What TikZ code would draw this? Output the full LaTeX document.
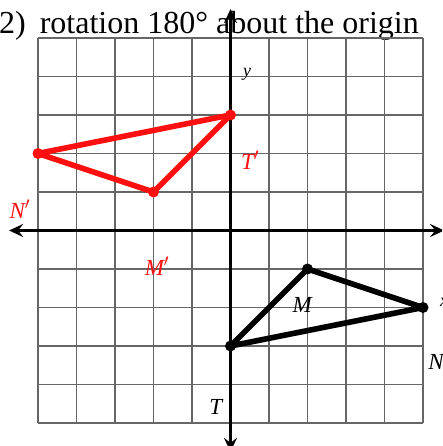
\documentclass[tikz,border=0pt]{standalone}
\usepackage{fontspec}
\setmainfont{Liberation Serif}
\usetikzlibrary{arrows.meta}
\definecolor{gridgray}{HTML}{666666}
\definecolor{imgred}{HTML}{FF1010}
\tikzset{
  gridline/.style={draw=gridgray, line width=1.6pt},
  axisline/.style={draw=black, line width=2.8pt, -{Stealth[length=14pt,width=13pt,inset=5pt]}},
  triline/.style={line width=5.6pt, line join=round},
  dotpt/.style={circle, inner sep=0pt, minimum size=11pt},
  lab/.style={font=\fontsize{23}{23}\selectfont\itshape, inner sep=0pt},
}
\begin{document}
\begin{tikzpicture}[x=1pt,y=1pt]
\useasboundingbox (0,0) rectangle (442,446);
\clip (0,0) rectangle (442,446);
\node[anchor=base west, inner sep=0pt, font=\fontsize{32}{32}\selectfont] (title) at (-1,412) {2)\hspace{14pt}rotation 180° about the origin};
\begin{scope}[shift={(230.5,215.5)}, x=38.5pt, y=38.5pt]
  \foreach \i in {-5,...,5} {
    \draw[gridline] (\i,-5) -- (\i,5);
    \draw[gridline] (-5,\i) -- (5,\i);
  }
  \coordinate (O) at (0,0);
  \coordinate (xl) at (-5.75,0);
  \coordinate (xr) at (5.55,0);
  \coordinate (yb) at (0,-5.75);
  \coordinate (yt) at (0,5.75);
  \draw[axisline] (O) -- (xl);
  \draw[axisline] (O) -- (xr);
  \draw[axisline] (O) -- (yt);
  \draw[axisline] (O) -- (yb);
  \coordinate (Tp) at (0,3);
  \coordinate (Np) at (-5,2);
  \coordinate (Mp) at (-2,1);
  \coordinate (M) at (2,-1);
  \coordinate (N) at (5,-2);
  \coordinate (T) at (0,-3);
  \draw[triline, imgred] (Tp) -- (Np) -- (Mp) -- cycle;
  \draw[triline, black] (T) -- (M) -- (N) -- cycle;
  \foreach \p in {Tp,Np,Mp} \node[dotpt, fill=imgred] (d\p) at (\p) {};
  \foreach \p in {T,M,N} \node[dotpt, fill=black] (d\p) at (\p) {};
  \node[lab, font=\fontsize{18}{18}\selectfont\itshape] (ylab) at (0.43,4.06) {y};
  \node[lab, text=imgred] (Tplab) at (0.51,1.83) {T$'$};
  \node[lab, text=imgred] (Nplab) at (-5.47,0.56) {N$'$};
  \node[lab, text=imgred] (Mplab) at (-1.91,-0.92) {M$'$};
  \node[lab] (Mlab) at (1.86,-1.94) {M};
  \node[lab] (Nlab) at (5.34,-3.42) {N};
  \node[lab] (Tlab) at (-0.38,-4.58) {T};
  \node[lab, font=\fontsize{18}{18}\selectfont\itshape] (xlab) at (5.55,-1.86) {x};
\end{scope}
\end{tikzpicture}
\end{document}
